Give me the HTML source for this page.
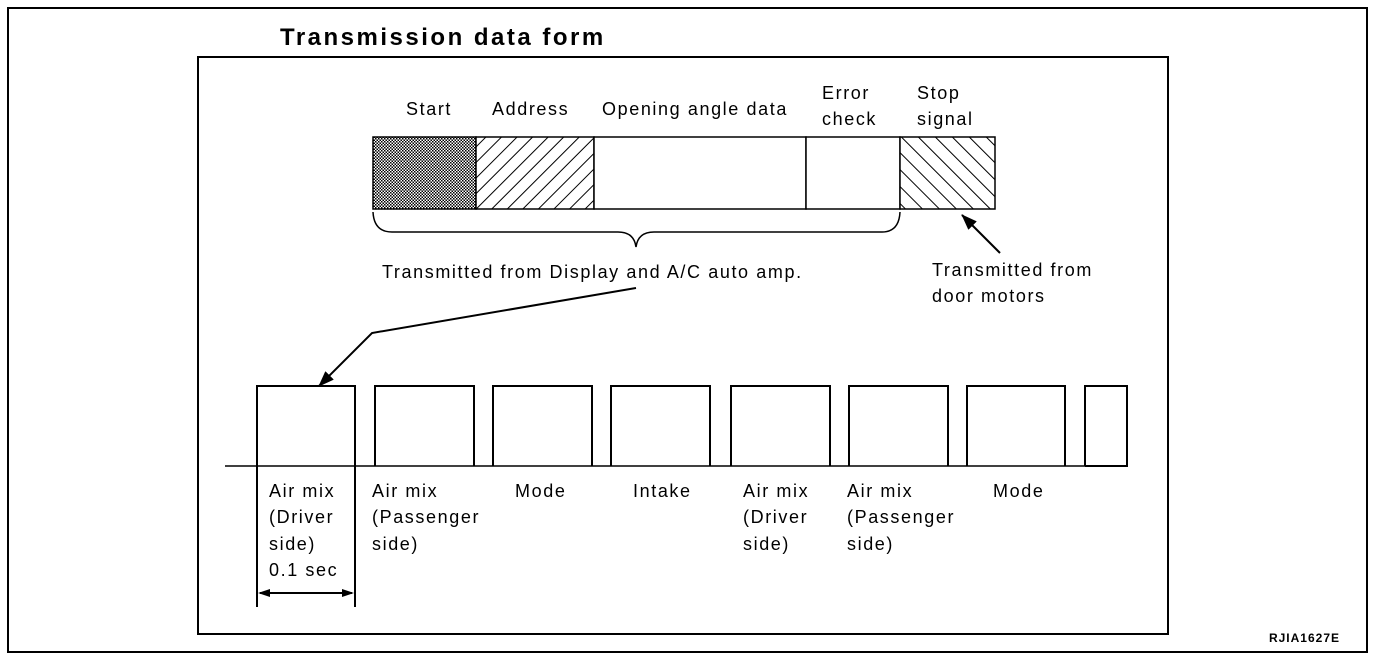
<!DOCTYPE html>
<html><head><style>
html,body{margin:0;padding:0;background:#fff;}
svg{display:block;}
text{font-family:"Liberation Sans",Arial,sans-serif;fill:#000;}
.t{font-size:18px;letter-spacing:1.6px;}
</style></head><body>
<svg width="1376" height="662" viewBox="0 0 1376 662" xmlns="http://www.w3.org/2000/svg">
<defs>
<pattern id="dots" width="3" height="3" patternUnits="userSpaceOnUse">
<rect width="3" height="3" fill="#fff"/><rect width="1.5" height="1.5" fill="#000"/><rect x="1.5" y="1.5" width="1.5" height="1.5" fill="#000"/>
</pattern>
<pattern id="fw" width="11" height="11" patternUnits="userSpaceOnUse" patternTransform="rotate(45)">
<rect width="11" height="11" fill="#fff"/><line x1="0" y1="0" x2="0" y2="11" stroke="#000" stroke-width="2"/>
</pattern>
<pattern id="bw" width="12" height="12" patternUnits="userSpaceOnUse" patternTransform="rotate(-45)">
<rect width="12" height="12" fill="#fff"/><line x1="0" y1="0" x2="0" y2="12" stroke="#000" stroke-width="2"/>
</pattern>
<marker id="ah2" markerWidth="16" markerHeight="12" refX="15" refY="6" orient="auto" markerUnits="userSpaceOnUse">
<path d="M0,0 L16,6 L0,12 z" fill="#000"/></marker>
</defs>
<rect x="8" y="8" width="1359" height="644" fill="none" stroke="#000" stroke-width="2"/>
<rect x="198" y="57" width="970" height="577" fill="none" stroke="#000" stroke-width="2"/>
<text x="280" y="45" font-size="24" font-weight="bold" letter-spacing="2.5">Transmission data form</text>

<g class="t">
<text x="406" y="115">Start</text>
<text x="492" y="115">Address</text>
<text x="602" y="115">Opening angle data</text>
<text x="822" y="99">Error</text>
<text x="822" y="125">check</text>
<text x="917" y="99">Stop</text>
<text x="917" y="125">signal</text>
</g>
<rect x="373" y="137" width="103" height="72" fill="url(#dots)" stroke="#000" stroke-width="1.5"/>
<rect x="476" y="137" width="118" height="72" fill="url(#fw)" stroke="#000" stroke-width="1.5"/>
<rect x="594" y="137" width="212" height="72" fill="#fff" stroke="#000" stroke-width="1.5"/>
<rect x="806" y="137" width="94" height="72" fill="#fff" stroke="#000" stroke-width="1.5"/>
<rect x="900" y="137" width="95" height="72" fill="url(#bw)" stroke="#000" stroke-width="1.5"/>
<path d="M373,212 Q374,232 392,232 L618,232 Q634,232 636,247 Q638,232 654,232 L882,232 Q899,232 900,212" fill="none" stroke="#000" stroke-width="1.5"/>

<g class="t">
<text x="382" y="278">Transmitted from Display and A/C auto amp.</text>
<text x="932" y="276">Transmitted from</text>
<text x="932" y="302">door motors</text>
</g>
<line x1="1000" y1="253" x2="962" y2="215" stroke="#000" stroke-width="2" marker-end="url(#ah2)"/>
<polyline points="636,288 372,333 319,386" fill="none" stroke="#000" stroke-width="2" marker-end="url(#ah2)"/>

<line x1="225" y1="466" x2="1085" y2="466" stroke="#000" stroke-width="1.5"/>
<g fill="none" stroke="#000" stroke-width="2">
<polyline points="257,607 257,386 355,386 355,607"/>
<polyline points="375,466 375,386 474,386 474,466"/>
<polyline points="493,466 493,386 592,386 592,466"/>
<polyline points="611,466 611,386 710,386 710,466"/>
<polyline points="731,466 731,386 830,386 830,466"/>
<polyline points="849,466 849,386 948,386 948,466"/>
<polyline points="967,466 967,386 1065,386 1065,466"/>
<polyline points="1085,466 1085,386 1127,386 1127,466 1085,466"/>
</g>
<line x1="260" y1="593" x2="352" y2="593" stroke="#000" stroke-width="2"/>
<path d="M258,593 L270,589 L270,597 z M354,593 L342,589 L342,597 z" fill="#000"/>

<g class="t">
<text x="269" y="497">Air mix</text><text x="269" y="523">(Driver</text><text x="269" y="550">side)</text><text x="269" y="576">0.1 sec</text>
<text x="372" y="497">Air mix</text><text x="372" y="523">(Passenger</text><text x="372" y="550">side)</text>
<text x="515" y="497">Mode</text>
<text x="633" y="497">Intake</text>
<text x="743" y="497">Air mix</text><text x="743" y="523">(Driver</text><text x="743" y="550">side)</text>
<text x="847" y="497">Air mix</text><text x="847" y="523">(Passenger</text><text x="847" y="550">side)</text>
<text x="993" y="497">Mode</text>
</g>
<text x="1340" y="642" font-size="12" font-weight="bold" text-anchor="end" letter-spacing="1">RJIA1627E</text>
</svg>
</body></html>
